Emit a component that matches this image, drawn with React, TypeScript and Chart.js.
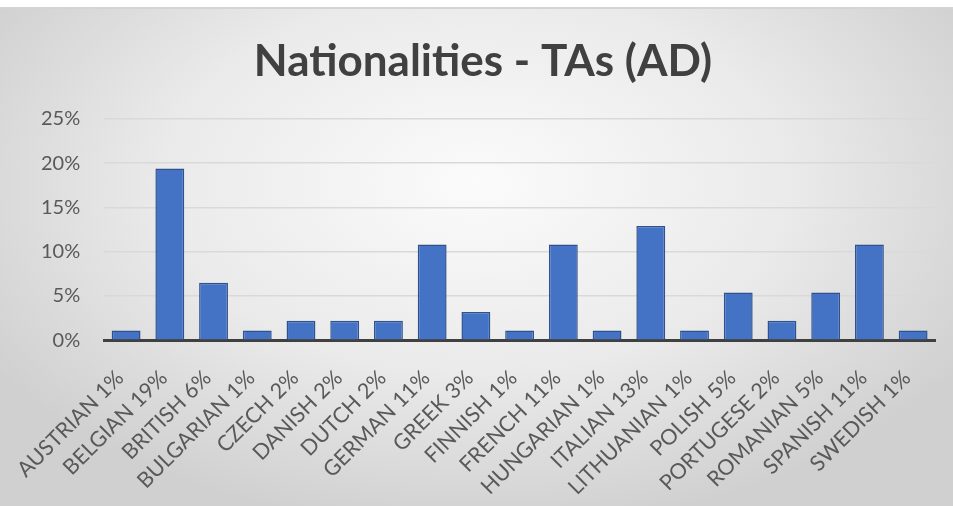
import React, { useEffect, useRef } from "react";
import { Chart, registerables } from "chart.js";

Chart.register(...registerables);

const categories = [
  "AUSTRIAN 1%", "BELGIAN 19%", "BRITISH 6%", "BULGARIAN 1%", "CZECH 2%",
  "DANISH 2%", "DUTCH 2%", "GERMAN 11%", "GREEK 3%", "FINNISH 1%",
  "FRENCH 11%", "HUNGARIAN 1%", "ITALIAN 13%", "LITHUANIAN 1%", "POLISH 5%",
  "PORTUGESE 2%", "ROMANIAN 5%", "SPANISH 11%", "SWEDISH 1%",
];
const shares = [
  1.1, 19.4, 6.5, 1.1, 2.2, 2.2, 2.2, 10.8, 3.2, 1.1,
  10.8, 1.1, 12.9, 1.1, 5.4, 2.2, 5.4, 10.8, 1.1,
];
const yTicks = [0, 5, 10, 15, 20, 25];
const title = "Nationalities - TAs (AD)";

const shiftTitle = {
  id: "shiftTitle",
  afterLayout(chart: any) {
    const tb = chart.titleBlock;
    if (tb) {
      tb.left += 7;
      tb.right += 7;
    }
  },
};

export default function App() {
  const ref = useRef<HTMLCanvasElement | null>(null);
  useEffect(() => {
    if (!ref.current) return;
    const chart = new Chart(ref.current, {
      type: "bar",
      data: {
        labels: categories,
        datasets: [
          {
            data: shares,
            backgroundColor: "#4472C4",
            borderColor: "#2F528F",
            borderWidth: 1.5,
            barPercentage: 0.66,
            categoryPercentage: 1,
          },
        ],
      },
      plugins: [shiftTitle],
      options: {
        responsive: false,
        animation: false,
        layout: { padding: { left: 17, right: 18, top: 26, bottom: -11 } },
        plugins: {
          legend: { display: false },
          tooltip: { enabled: false },
          title: {
            display: true,
            text: title,
            color: "#404040",
            font: { family: "Lato", size: 44, weight: "bold" },
            padding: { top: 0, bottom: 31 },
          },
        },
        scales: {
          x: {
            grid: { display: false },
            border: { display: true, color: "#404040", width: 3 },
            ticks: {
              color: "#595959",
              font: { family: "Lato", size: 21.5 },
              minRotation: 45,
              maxRotation: 45,
              autoSkip: false,
              padding: 17,
              labelOffset: -6,
            },
          },
          y: {
            min: 0,
            max: 25,
            afterBuildTicks: (axis: any) => {
              axis.ticks = yTicks.map((v) => ({ value: v }));
            },
            grid: { color: "#d9d9d9", lineWidth: 1.5, tickLength: 0 },
            border: { display: false },
            ticks: {
              color: "#595959",
              font: { family: "Lato", size: 20 },
              padding: 24,
              callback: (v: any) => `${v}%`,
            },
          },
        },
      },
    });
    return () => chart.destroy();
  }, []);
  return (
    <div
      style={{
        position: "absolute",
        left: 0,
        top: 0,
        width: 953,
        height: 506,
        background: "#ffffff",
        overflow: "hidden",
      }}
    >
      <div
        style={{
          position: "absolute",
          left: 0,
          top: 7,
          width: 953,
          height: 499,
          borderTop: "2px solid #d4d4d4",
          boxSizing: "border-box",
          background:
            "radial-gradient(ellipse 60% 70% at 50% 35%, #fbfbfb 0%, #eaeaea 55%, #d0d0d0 100%)",
        }}
      >
        <canvas ref={ref} width={953} height={497} style={{ display: "block" }} />
      </div>
    </div>
  );
}
